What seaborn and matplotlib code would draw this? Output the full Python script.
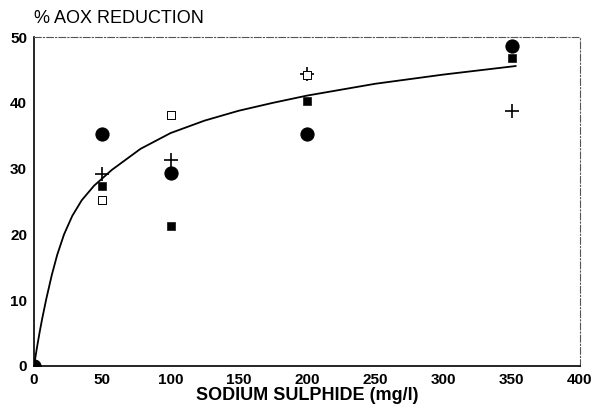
import matplotlib
matplotlib.use("Agg")
import matplotlib.pyplot as plt
import seaborn as sns
import pandas as pd

# dose levels (mg/l Na2S)
doses = [0, 50, 100, 200, 350]
doses_open = [50, 100, 200]

# % AOX reduction per series
circles = [0, 35.2, 29.3, 35.3, 48.6]
squares = [0, 27.3, 21.3, 40.3, 46.8]
crosses = [0, 29.2, 31.3, 44.4, 38.8]
open_squares = [25.2, 38.2, 44.3]

# fitted curve
curve_x = [0, 2, 4, 6, 9, 13, 17, 22, 28, 35, 44, 57, 78, 100, 125, 150,
           175, 200, 250, 300, 353]
curve_y = [0, 2.6, 5.0, 7.2, 10.2, 13.8, 16.9, 20.0, 22.8, 25.2, 27.4, 29.8,
           33.0, 35.4, 37.3, 38.8, 40.0, 41.1, 42.9, 44.3, 45.6]

sns.set_theme(style="white")
plt.rcParams["font.family"] = ["Liberation Sans", "DejaVu Sans"]
plt.rcParams["text.color"] = "black"
plt.rcParams["xtick.color"] = "black"
plt.rcParams["ytick.color"] = "black"
plt.rcParams["axes.labelcolor"] = "black"

fig = plt.figure(figsize=(5.97, 4.12), dpi=100)
ax = fig.add_axes([0.057, 0.112, 0.9145, 0.798])

curve = pd.DataFrame({"x": curve_x, "y": curve_y})
sns.lineplot(data=curve, x="x", y="y", ax=ax, color="black", lw=1.3,
             sort=False, estimator=None)

sns.scatterplot(x=doses, y=circles, ax=ax, marker="o", s=90, color="black",
                edgecolor="black", zorder=3)
sns.scatterplot(x=doses, y=squares, ax=ax, marker="s", s=30, color="black",
                edgecolor="black", zorder=3)
sns.scatterplot(x=doses, y=crosses, ax=ax, marker="+", s=90, color="black",
                linewidth=1.2, zorder=3)
sns.scatterplot(x=doses_open, y=open_squares, ax=ax, marker="s", s=30,
                facecolor="white", edgecolor="black", linewidth=0.7, zorder=3)

ax.set_xlim(0, 400)
ax.set_ylim(0, 50)
ax.set_xticks(range(0, 401, 50))
ax.set_yticks(range(0, 51, 10))
ax.tick_params(axis="both", labelsize=11, length=3, width=0.8, pad=2)
for lab in ax.get_xticklabels() + ax.get_yticklabels():
    lab.set_fontweight("bold")
ax.tick_params(axis="x", length=0, pad=5)

for side in ["left", "bottom"]:
    ax.spines[side].set_color("black")
    ax.spines[side].set_linewidth(1.2)
for side in ["top", "right"]:
    ax.spines[side].set_color("#555555")
    ax.spines[side].set_linewidth(0.8)
    ax.spines[side].set_linestyle((0, (6, 2, 1, 2)))

ax.set_xlabel("SODIUM SULPHIDE (mg/l)", fontsize=13, fontweight="bold", labelpad=0)
ax.set_ylabel("")
fig.text(0.057, 0.935, "% AOX REDUCTION", fontsize=13, ha="left", va="bottom")

fig.savefig("out.png", dpi=100)
